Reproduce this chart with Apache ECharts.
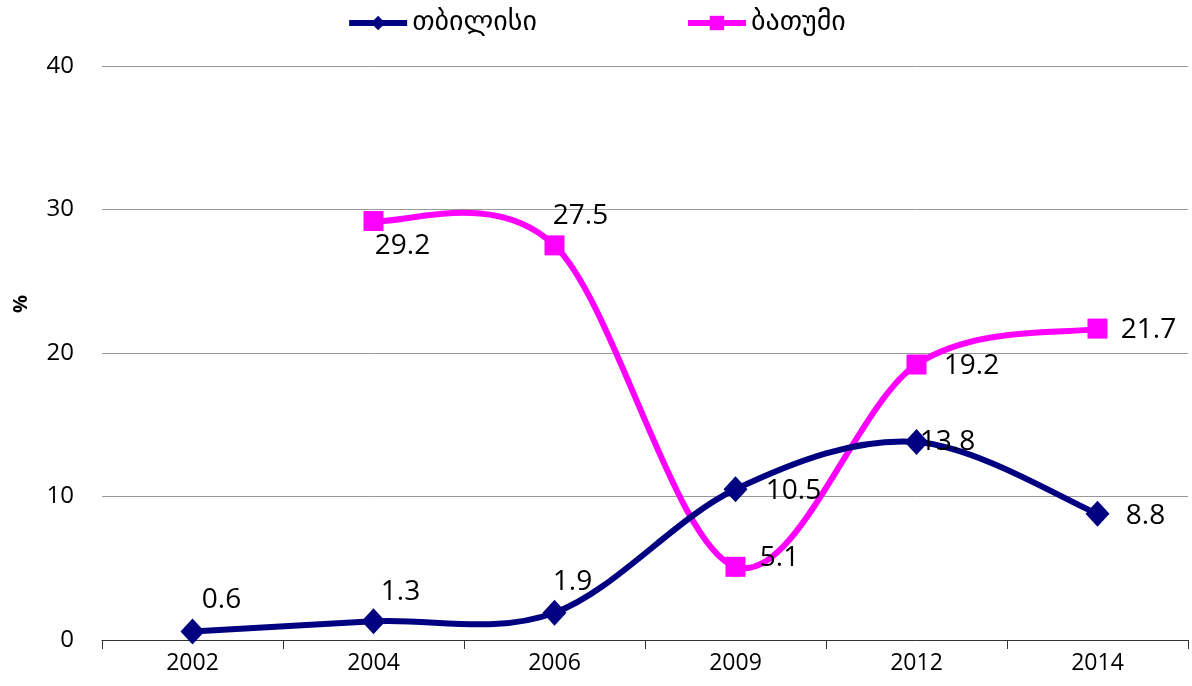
<!DOCTYPE html>
<html><head><meta charset="utf-8">
<script src="https://cdn.jsdelivr.net/npm/echarts@6/dist/echarts.min.js"></script>
<style>html,body{margin:0;padding:0;background:#fff}#c{width:1192px;height:686px}</style>
</head><body><div id="c"></div>
<script>
const categories = ['2002','2004','2006','2009','2012','2014'];
const tbilisi = [0.6, 1.3, 1.9, 10.5, 13.8, 8.8];
const batumi = [null, 29.2, 27.5, 5.1, 19.2, 21.7];
const seriesNames = ['თბილისი', 'ბათუმი'];
const yTicks = {min: 0, max: 40, interval: 10};
const yName = '%';
// label offsets (style only)
const tbOffsets = [[29,-31],[27,-29],[18,-31],[58,2],[31,0],[48,2]];
const baOffsets = [[0,0],[29,25],[26,-29],[44,-9],[55,2],[51,1]];

const NAVY = '#000080', MAG = '#FF00FF';

function mk(vals, offs){
  return vals.map((v,i)=>({value:v, label:{offset:offs[i]}}));
}
// Excel-like smoothed curve (Catmull-Rom segments) drawn through the axis scales
function curveSeries(vals, color){
  return {
    type:'custom', silent:true, z:1, clip:true,
    data: vals.map((v,i)=>[i, v == null ? 0 : v]),
    renderItem:function(params, api){
      const i = params.dataIndex;
      if (vals[i] == null || i + 1 >= vals.length || vals[i+1] == null) return null;
      const pt = k => api.coord([k, vals[k]]);
      const p1 = pt(i), p2 = pt(i+1);
      const p0 = (i-1 >= 0 && vals[i-1] != null) ? pt(i-1) : p1;
      const p3 = (i+2 < vals.length && vals[i+2] != null) ? pt(i+2) : p2;
      return {
        type:'bezierCurve',
        shape:{x1:p1[0], y1:p1[1], x2:p2[0], y2:p2[1],
          cpx1:p1[0]+(p2[0]-p0[0])/6, cpy1:p1[1]+(p2[1]-p0[1])/6,
          cpx2:p2[0]-(p3[0]-p1[0])/6, cpy2:p2[1]-(p3[1]-p1[1])/6},
        style:{stroke:color, lineWidth:6, fill:null, lineCap:'round'}
      };
    }
  };
}
const chart = echarts.init(document.getElementById('c'));
const lbl = {show:true, position:'inside', align:'center', verticalAlign:'middle', color:'#000', fontSize:28, fontFamily:'"Open Sans", sans-serif', formatter:p=>p.value.toFixed(1)};
chart.setOption({
  animation:false,
  legend:{top:4, left:'center', itemGap:148, itemWidth:58, itemHeight:18,
    lineStyle:{opacity:1, width:6},
    textStyle:{fontSize:28, color:'#000', fontFamily:'"DejaVu Sans", sans-serif'},
    data:seriesNames},
  graphic:[{type:'text', x:21, y:304, rotation:Math.PI/2,
    style:{text:yName, align:'center', verticalAlign:'middle', fontSize:20, fontWeight:'bold', fill:'#000', fontFamily:'"Open Sans", sans-serif'}}],
  grid:{left:102, right:4, top:66, bottom:46, containLabel:false, outerBoundsMode:'none'},
  xAxis:{type:'category', data:categories, boundaryGap:true,
    axisLine:{lineStyle:{color:'#333', width:1}},
    axisTick:{show:true, length:9, lineStyle:{color:'#333'}},
    axisLabel:{fontSize:23, color:'#000', margin:12, fontFamily:'"Open Sans", sans-serif'}},
  yAxis:{type:'value', min:yTicks.min, max:yTicks.max, interval:yTicks.interval,
    axisLine:{show:false}, axisTick:{show:false},
    splitLine:{lineStyle:{color:'#999', width:1}},
    axisLabel:{fontSize:24, color:'#000', margin:28, fontFamily:'"Open Sans", sans-serif'}},
  series:[
    curveSeries(batumi, MAG),
    curveSeries(tbilisi, NAVY),
    {name:seriesNames[0], type:'line', data:mk(tbilisi, tbOffsets),
     symbol:'diamond', symbolSize:[24,26], color:NAVY,
     lineStyle:{width:6, color:NAVY, opacity:0}, itemStyle:{color:NAVY}, label:lbl, z:4},
    {name:seriesNames[1], type:'line', data:mk(batumi, baOffsets), connectNulls:false,
     symbol:'rect', symbolSize:20, color:MAG,
     lineStyle:{width:6, color:MAG, opacity:0}, itemStyle:{color:MAG}, label:lbl, z:3}
  ]
});
</script></body></html>
